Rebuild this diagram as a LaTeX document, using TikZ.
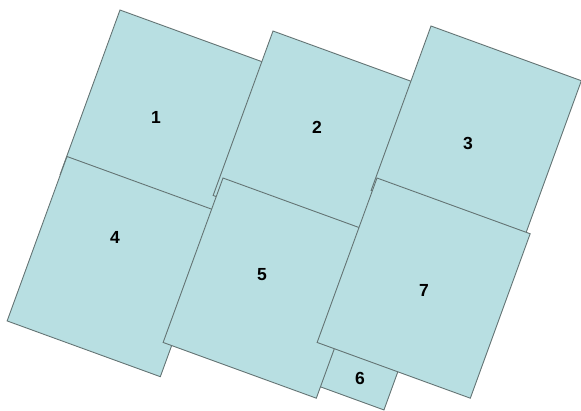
\documentclass[tikz,border=0pt]{standalone}
\usepackage{fontspec}
\setmainfont{Liberation Sans}
\definecolor{tilefill}{RGB}{184,223,226}
\definecolor{tileedge}{RGB}{100,116,116}
\tikzset{
  tile/.style={fill=tilefill, draw=tileedge, line width=0.9pt, line join=miter},
  num/.style={font=\fontsize{17.5}{17.5}\selectfont\bfseries, text=black, inner sep=0pt}
}
\newcommand\tileat[4]{% top-left corner (#1,#2), width #3, height #4
  \draw[tile] (#1,#2) -- ++(20:#3) -- ++(110:#4) -- ++(200:#3) -- cycle;}
\begin{document}
\begin{tikzpicture}[x=1pt,y=-1pt]
\useasboundingbox (0,0) rectangle (581,410);
\tileat{120}{10}{163}{175}
\tileat{273}{31}{163}{175}
\tileat{431}{26}{160}{175}
\tileat{67}{156.5}{163}{175}
\tileat{329.3}{326.2}{80}{60}
\tileat{223}{178}{163}{175}
\tileat{377}{178}{163}{175}
\node[num] (n1) at (156,117) {1};
\node[num] (n2) at (317,127) {2};
\node[num] (n3) at (468,143) {3};
\node[num] (n4) at (115,237) {4};
\node[num] (n5) at (262,275) {5};
\node[num] (n6) at (360,378) {6};
\node[num] (n7) at (424,290) {7};
\end{tikzpicture}
\end{document}
